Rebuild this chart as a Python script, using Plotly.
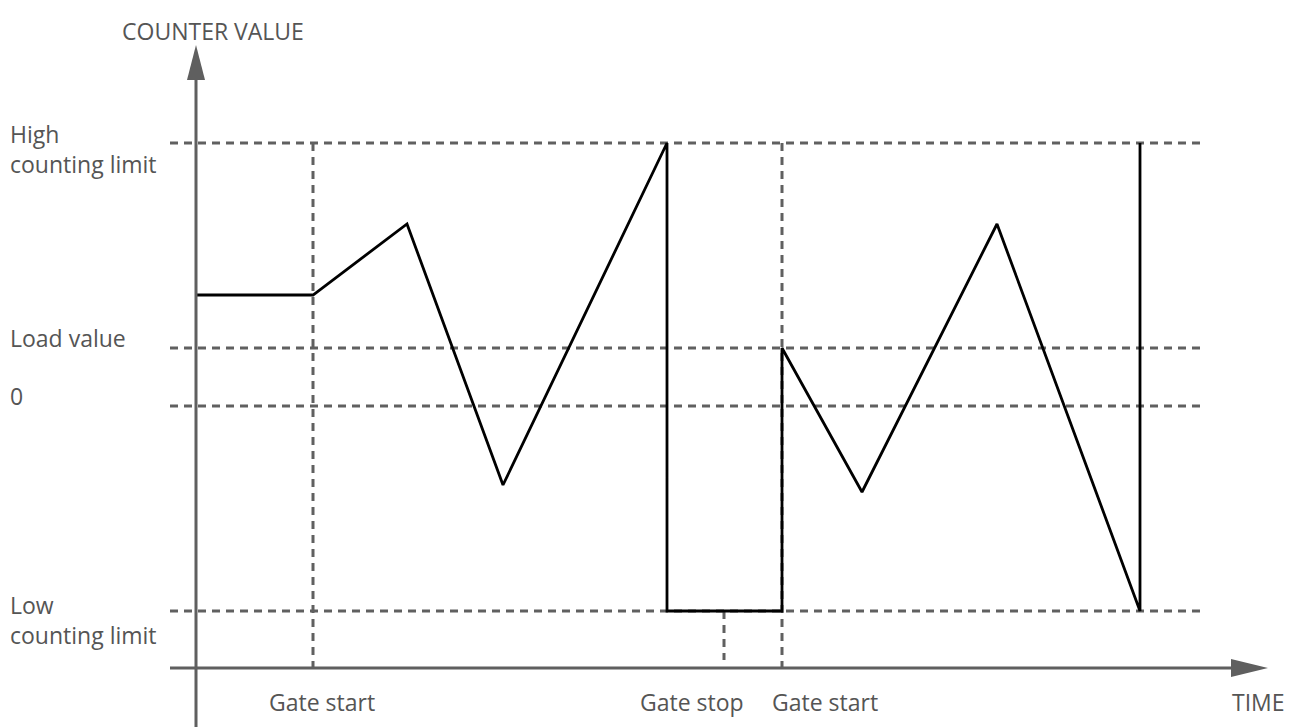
import plotly.graph_objects as go

# ---- data (time units, counter units) ----
HIGH = 26.3
LOAD = 5.8
ZERO = 0.0
LOW = -20.5
AXIS_Y = -26.2

t_pts = [0, 11.7, 21.1, 30.7, 47.1, 47.1, 58.6, 58.6, 66.6, 80.1, 94.4, 94.4]
v_pts = [11.1, 11.1, 18.2, -7.9, HIGH, LOW, LOW, LOAD, -8.6, 18.2, LOW, HIGH]

gate_start_1 = 11.7
gate_stop = 52.8
gate_start_2 = 58.6

level_values = [HIGH, LOAD, ZERO, LOW]
level_labels = ["High<br>counting limit", "Load value", "0", "Low<br>counting limit"]
gate_times = [gate_start_1, gate_stop, gate_start_2]
gate_labels = ["Gate start", "Gate stop", "Gate start"]

# ---- layout constants ----
X_RANGE = [-18.8, 111.3]
Y_RANGE = [-32.9, 39.8]
AX_COLOR = "#5f5f5f"
DASH_COLOR = "#606060"
TXT_COLOR = "#555555"
FONT = "Open Sans"
FS = 23

fig = go.Figure()

dash = dict(color=DASH_COLOR, width=3, dash="8px,6px")
# dashed horizontal levels
for lv in level_values:
    fig.add_shape(type="line", x0=-2.6, x1=100.4, y0=lv, y1=lv, xref="x", yref="y",
                  line=dash, layer="below")
# dashed vertical gates
fig.add_shape(type="line", x0=gate_start_1, x1=gate_start_1, y0=HIGH, y1=AXIS_Y,
              line=dash, layer="below")
fig.add_shape(type="line", x0=gate_start_2, x1=gate_start_2, y0=HIGH, y1=AXIS_Y,
              line=dash, layer="below")
fig.add_shape(type="line", x0=gate_stop, x1=gate_stop, y0=LOW, y1=AXIS_Y + 0.8,
              line=dash, layer="below")

# axes
fig.add_shape(type="line", x0=0, x1=0, y0=Y_RANGE[0], y1=32.6,
              line=dict(color=AX_COLOR, width=3))
fig.add_shape(type="line", x0=-2.6, x1=103.9, y0=AXIS_Y, y1=AXIS_Y,
              line=dict(color=AX_COLOR, width=3))
# arrowheads
fig.add_shape(type="path", path="M -0.9 32.6 L 0.9 32.6 L 0 36.1 Z",
              fillcolor=AX_COLOR, line=dict(width=0))
fig.add_shape(type="path",
              path=f"M 103.5 {AXIS_Y+0.9} L 103.5 {AXIS_Y-0.9} L 107.2 {AXIS_Y} Z",
              fillcolor=AX_COLOR, line=dict(width=0))

# counter trace
fig.add_trace(go.Scatter(x=t_pts, y=v_pts, mode="lines",
                         line=dict(color="black", width=2.8), hoverinfo="skip",
                         showlegend=False))

# labels
fig.add_annotation(text="COUNTER VALUE", x=0, y=Y_RANGE[1], xref="x", yref="y",
                   xanchor="center", yanchor="middle", yshift=-23, xshift=17,
                   showarrow=False, font=dict(family=FONT, size=FS, color=TXT_COLOR))
for lv, lab in zip(level_values, level_labels):
    multi = "<br>" in lab
    if multi:
        ys = -6 if lv == HIGH else -9
    else:
        ys = 10
    fig.add_annotation(text=lab, x=0, y=lv, xref="paper", yref="y",
                       xanchor="left", yanchor="middle", align="left",
                       yshift=ys, showarrow=False,
                       font=dict(family=FONT, size=FS, color=TXT_COLOR))
gate_xshift = [9, -32, 43]
for gt, gl, xs in zip(gate_times, gate_labels, gate_xshift):
    fig.add_annotation(text=gl, x=gt, y=AXIS_Y, xref="x", yref="y",
                       xanchor="center", yanchor="middle", yshift=-34, xshift=xs,
                       showarrow=False, font=dict(family=FONT, size=FS, color=TXT_COLOR))
fig.add_annotation(text="TIME", x=107.2, y=AXIS_Y, xref="x", yref="y",
                   xanchor="center", yanchor="middle", yshift=-34, xshift=-10,
                   showarrow=False, font=dict(family=FONT, size=FS, color=TXT_COLOR))

fig.update_layout(
    width=1301, height=727, margin=dict(l=0, r=0, t=0, b=0),
    paper_bgcolor="white", plot_bgcolor="white",
    xaxis=dict(range=X_RANGE, visible=False, fixedrange=True),
    yaxis=dict(range=Y_RANGE, visible=False, fixedrange=True),
)

fig.write_html("out.html")
